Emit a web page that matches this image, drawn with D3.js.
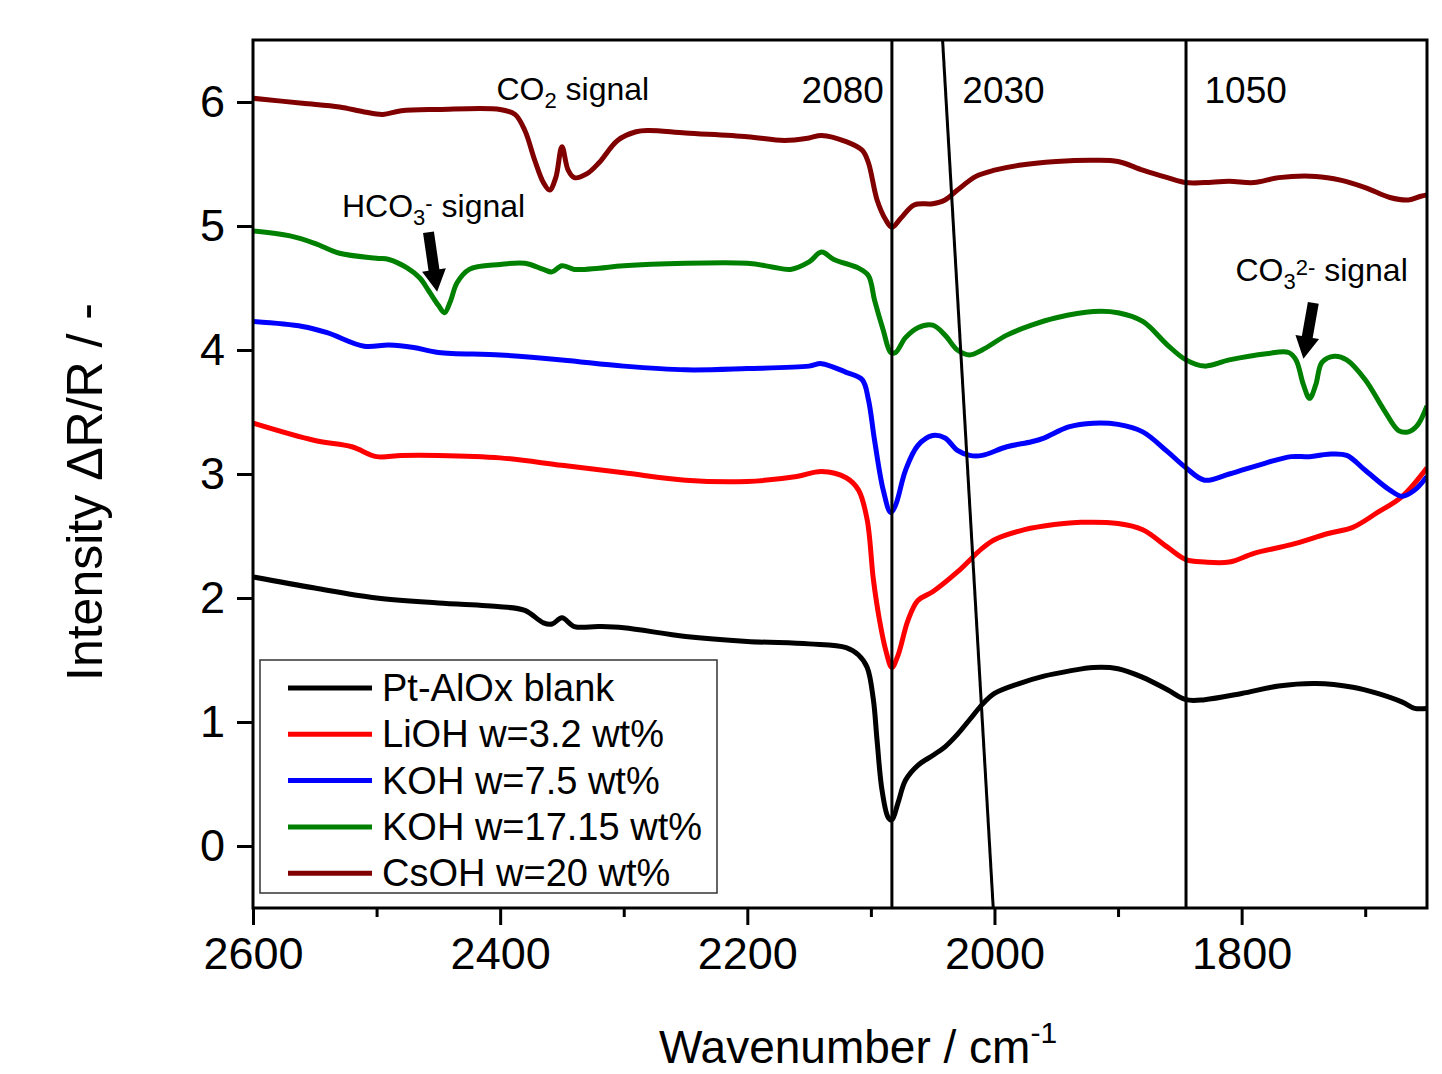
<!DOCTYPE html>
<html lang="en">
<head>
<meta charset="UTF-8">
<title>DRIFTS spectra</title>
<script src="https://cdnjs.cloudflare.com/ajax/libs/d3/7.8.5/d3.min.js"></script>
<style>
  body { margin: 0; background: #fff; }
  text { font-family: "Liberation Sans", Arial, sans-serif; fill: #000; }
</style>
</head>
<body>
<svg id="canvas" width="1442" height="1074"></svg>
<script>
// wavenumber (cm-1), intensity pairs
const blank = [[2600,2.17],[2550,2.08],[2500,2.0],[2450,1.96],[2400,1.93],[2380,1.90],[2365,1.80],[2358,1.79],[2350,1.84],[2340,1.77],[2320,1.77],[2300,1.76],[2250,1.69],[2200,1.65],[2150,1.63],[2120,1.60],[2110,1.54],[2103,1.44],[2098,1.18],[2095,0.85],[2091,0.45],[2086,0.23],[2083,0.21],[2078,0.35],[2072,0.53],[2062,0.65],[2050,0.73],[2040,0.80],[2030,0.90],[2020,1.02],[2010,1.14],[2000,1.23],[1980,1.31],[1960,1.37],[1940,1.41],[1920,1.44],[1900,1.43],[1880,1.36],[1860,1.26],[1845,1.18],[1830,1.18],[1800,1.23],[1770,1.29],[1740,1.31],[1710,1.28],[1690,1.23],[1670,1.16],[1660,1.11],[1650,1.11]];
const lioh = [[2600,3.41],[2550,3.27],[2520,3.22],[2500,3.14],[2480,3.15],[2450,3.15],[2400,3.13],[2350,3.07],[2300,3.01],[2250,2.95],[2200,2.94],[2160,2.98],[2140,3.02],[2120,2.97],[2110,2.87],[2103,2.63],[2098,2.15],[2093,1.82],[2088,1.58],[2083,1.44],[2078,1.54],[2070,1.82],[2062,1.98],[2050,2.05],[2030,2.21],[2010,2.40],[2000,2.47],[1980,2.54],[1960,2.58],[1930,2.61],[1900,2.60],[1880,2.55],[1860,2.41],[1845,2.31],[1830,2.29],[1810,2.29],[1790,2.36],[1760,2.43],[1730,2.52],[1710,2.57],[1690,2.69],[1670,2.82],[1650,3.05]];
const koh75 = [[2600,4.23],[2560,4.19],[2540,4.14],[2510,4.03],[2490,4.04],[2470,4.02],[2450,3.98],[2400,3.96],[2350,3.92],[2300,3.87],[2250,3.84],[2200,3.85],[2150,3.87],[2140,3.89],[2120,3.82],[2107,3.76],[2102,3.60],[2097,3.27],[2090,2.87],[2084,2.69],[2080,2.75],[2072,3.03],[2062,3.23],[2050,3.31],[2040,3.29],[2030,3.19],[2020,3.15],[2010,3.15],[1990,3.22],[1970,3.26],[1960,3.29],[1940,3.38],[1920,3.41],[1900,3.40],[1880,3.34],[1860,3.18],[1845,3.05],[1830,2.95],[1810,3.00],[1780,3.09],[1760,3.14],[1745,3.14],[1730,3.16],[1715,3.15],[1700,3.03],[1680,2.87],[1670,2.82],[1660,2.87],[1650,2.98]];
const koh1715 = [[2600,4.96],[2570,4.92],[2550,4.86],[2530,4.78],[2500,4.74],[2490,4.73],[2475,4.66],[2465,4.58],[2458,4.48],[2450,4.36],[2445,4.30],[2440,4.40],[2435,4.54],[2425,4.65],[2400,4.69],[2380,4.70],[2365,4.65],[2358,4.63],[2350,4.68],[2340,4.65],[2320,4.66],[2300,4.68],[2200,4.70],[2180,4.67],[2165,4.65],[2150,4.71],[2140,4.79],[2130,4.73],[2110,4.66],[2102,4.60],[2097,4.40],[2090,4.16],[2084,3.98],[2080,3.98],[2072,4.10],[2062,4.18],[2050,4.20],[2040,4.12],[2030,4.00],[2020,3.96],[2010,4.00],[1990,4.12],[1970,4.20],[1950,4.26],[1920,4.31],[1900,4.30],[1880,4.23],[1860,4.04],[1845,3.92],[1830,3.87],[1810,3.92],[1780,3.97],[1762,3.98],[1756,3.92],[1750,3.72],[1745,3.61],[1740,3.72],[1735,3.90],[1725,3.95],[1715,3.92],[1700,3.76],[1685,3.52],[1673,3.35],[1665,3.34],[1658,3.39],[1650,3.55]];
const csoh = [[2600,6.03],[2560,5.99],[2530,5.96],[2510,5.92],[2495,5.90],[2480,5.93],[2450,5.94],[2400,5.94],[2388,5.90],[2380,5.77],[2372,5.53],[2365,5.35],[2360,5.29],[2355,5.39],[2350,5.64],[2345,5.45],[2340,5.39],[2330,5.42],[2320,5.51],[2305,5.69],[2290,5.76],[2280,5.77],[2250,5.75],[2200,5.72],[2170,5.69],[2150,5.71],[2140,5.73],[2120,5.68],[2107,5.61],[2102,5.51],[2095,5.21],[2088,5.05],[2083,4.99],[2076,5.06],[2065,5.17],[2050,5.18],[2040,5.21],[2030,5.29],[2015,5.40],[2000,5.45],[1980,5.49],[1950,5.52],[1920,5.53],[1900,5.52],[1880,5.45],[1860,5.39],[1845,5.35],[1830,5.35],[1810,5.36],[1790,5.35],[1770,5.39],[1740,5.40],[1720,5.37],[1700,5.31],[1680,5.23],[1665,5.21],[1655,5.24],[1650,5.25]];

const seriesNames = ["Pt-AlOx blank", "LiOH w=3.2 wt%", "KOH w=7.5 wt%", "KOH w=17.15 wt%", "CsOH w=20 wt%"];
const seriesColors = ["#000000", "#ff0000", "#0000ff", "#008000", "#800000"];
const seriesData = [blank, lioh, koh75, koh1715, csoh];

const xTicks = [2600, 2400, 2200, 2000, 1800];
const xMinorTicks = [2500, 2300, 2100, 1900, 1700];
const yTicks = [0, 1, 2, 3, 4, 5, 6];

// marker lines: [wavenumber at top, wavenumber at bottom, label]
const markerLines = [[2083, 2083, "2080"], [2042, 2001, "2030"], [1845, 1845, "1050"]];

const svg = d3.select("#canvas");
const pLeft = 253, pRight = 1427, pTop = 40, pBottom = 908;

const x = d3.scaleLinear().domain([2600, 1650]).range([pLeft, pRight]);
const y = d3.scaleLinear().domain([-0.5, 6.5]).range([pBottom, pTop]);

// axes
const xAxis = svg.append("g").attr("transform", "translate(0," + pBottom + ")")
    .call(d3.axisBottom(x).tickValues(xTicks).tickFormat(d3.format("d"))
      .tickSize(17).tickSizeOuter(0).tickPadding(12));
svg.append("g").attr("transform", "translate(0," + pBottom + ")")
    .call(d3.axisBottom(x).tickValues(xMinorTicks).tickSize(9).tickSizeOuter(0).tickFormat(""));
const yAxis = svg.append("g").attr("transform", "translate(" + pLeft + ",0)")
    .call(d3.axisLeft(y).tickValues(yTicks).tickFormat(d3.format("d"))
      .tickSize(16).tickSizeOuter(0).tickPadding(12));

svg.selectAll(".tick line").attr("stroke", "#000").attr("stroke-width", 3);
svg.selectAll(".domain").remove();
xAxis.selectAll("text").style("font-size", "45px");
yAxis.selectAll("text").style("font-size", "45px");

// curves
const line = d3.line()
    .x(d => x(d[0]))
    .y(d => y(d[1]))
    .curve(d3.curveCatmullRom.alpha(0.5));

svg.append("defs").append("clipPath").attr("id", "plotclip")
  .append("rect").attr("x", pLeft).attr("y", pTop).attr("width", pRight - pLeft).attr("height", pBottom - pTop);

const plot = svg.append("g").attr("clip-path", "url(#plotclip)");
seriesData.forEach((d, i) => {
  plot.append("path")
      .datum(d)
      .attr("fill", "none")
      .attr("stroke", seriesColors[i])
      .attr("stroke-width", 5)
      .attr("stroke-linejoin", "round")
      .attr("d", line);
});

// marker lines
markerLines.forEach(m => {
  plot.append("line")
      .attr("x1", x(m[0])).attr("y1", pTop)
      .attr("x2", x(m[1])).attr("y2", pBottom)
      .attr("stroke", "#000").attr("stroke-width", 3);
});

// labels at the top of the marker lines
svg.append("text").attr("x", x(2083) - 8).attr("y", y(5.99)).attr("text-anchor", "end")
    .style("font-size", "37px").text(markerLines[0][2]);
svg.append("text").attr("x", x(2026)).attr("y", y(5.99))
    .style("font-size", "37px").text(markerLines[1][2]);
svg.append("text").attr("x", x(1830)).attr("y", y(5.99))
    .style("font-size", "37px").text(markerLines[2][2]);

// annotations
function chem(xp, yp, parts) {
  const t = svg.append("text").attr("x", xp).attr("y", yp).style("font-size", "32px");
  parts.forEach(p => {
    const s = t.append("tspan").text(p[0]);
    if (p[1] === "sub") s.attr("dy", 8).style("font-size", "22px");
    else if (p[1] === "sup") s.attr("dy", -14).style("font-size", "22px");
    else if (p[1] === "back") s.attr("dy", p[2]);
  });
  return t;
}
chem(x(2403), y(6.02), [["CO"], ["2", "sub"], [" signal", "back", -8]]);
chem(x(2528), y(5.07), [["HCO"], ["3", "sub"], ["-", "sup"], [" signal", "back", 6]]);
chem(x(1805), y(4.56), [["CO"], ["3", "sub"], ["2-", "sup"], [" signal", "back", 6]]);

function arrow(x1, y1, x2, y2) {
  const ax = x(x1), ay = y(y1), bx = x(x2), by = y(y2);
  const dx = bx - ax, dy = by - ay, len = Math.hypot(dx, dy);
  const ux = dx / len, uy = dy / len, nx = -uy, ny = ux;
  const hl = 22, hw = 12, sw = 5.5;
  const hx = bx - ux * hl, hy = by - uy * hl;
  const pts = [
    [ax + nx * sw, ay + ny * sw], [hx + nx * sw, hy + ny * sw], [hx + nx * hw, hy + ny * hw],
    [bx, by], [hx - nx * hw, hy - ny * hw], [hx - nx * sw, hy - ny * sw], [ax - nx * sw, ay - ny * sw]
  ];
  svg.append("polygon").attr("points", pts.map(p => p.join(",")).join(" ")).attr("fill", "#000");
}
arrow(2458, 4.95, 2451, 4.47);
arrow(1742, 4.38, 1750, 3.93);

// frame
svg.append("rect").attr("x", pLeft).attr("y", pTop).attr("width", pRight - pLeft).attr("height", pBottom - pTop)
    .attr("fill", "none").attr("stroke", "#000").attr("stroke-width", 3);

// legend
const lg = svg.append("g").attr("transform", "translate(260,660)");
lg.append("rect").attr("width", 457).attr("height", 233).attr("fill", "#fff")
    .attr("stroke", "#333").attr("stroke-width", 1.5);
seriesNames.forEach((n, i) => {
  const yy = 28 + i * 46.3;
  lg.append("line").attr("x1", 28).attr("x2", 112).attr("y1", yy).attr("y2", yy)
      .attr("stroke", seriesColors[i]).attr("stroke-width", 5);
  lg.append("text").attr("x", 122).attr("y", yy + 13).style("font-size", "38px").text(n);
});

// axis titles
svg.append("text").attr("x", 858).attr("y", 1063).attr("text-anchor", "middle")
    .style("font-size", "46px")
    .call(t => { t.append("tspan").text("Wavenumber / cm");
                 t.append("tspan").attr("dy", -20).style("font-size", "30px").text("-1"); });
svg.append("text").attr("transform", "translate(102,492) rotate(-90)").attr("text-anchor", "middle")
    .style("font-size", "50px").text("Intensity \u0394R/R / -");
</script>
</body>
</html>
